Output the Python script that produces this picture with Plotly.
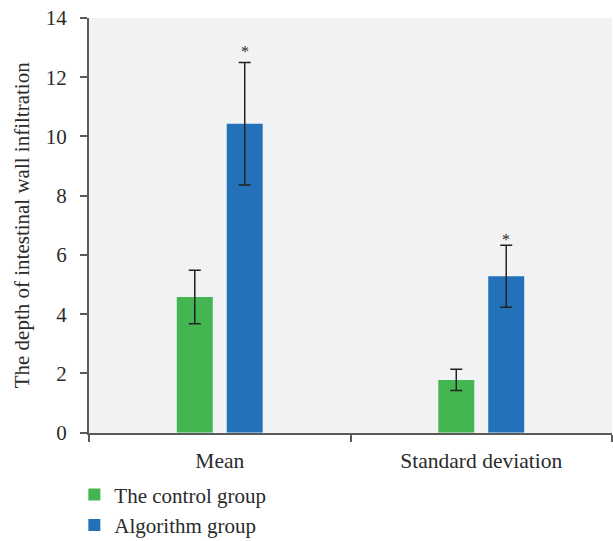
import plotly.graph_objects as go

categories = ["Mean", "Standard deviation"]
control_values = [4.58, 1.78]
control_errors = [0.90, 0.36]
algorithm_values = [10.43, 5.28]
algorithm_errors = [2.07, 1.05]
series_names = ["The control group", "Algorithm group"]
y_ticks = [0, 2, 4, 6, 8, 10, 12, 14]

GREEN = "#44b651"
BLUE = "#2372b9"
AXIS = "#5a5a5a"
TEXT = "#2b2b2b"
FONT = "Liberation Serif"

err_style = dict(type="data", visible=True, color="#222222", thickness=1.5, width=6)

fig = go.Figure()
fig.add_trace(go.Bar(
    x=categories, y=control_values, name=series_names[0],
    marker=dict(color=GREEN, line=dict(width=0)),
    error_y=dict(array=control_errors, **err_style),
))
fig.add_trace(go.Bar(
    x=categories, y=algorithm_values, name=series_names[1],
    marker=dict(color=BLUE, line=dict(width=0)),
    error_y=dict(array=algorithm_errors, **err_style),
))

# significance markers above the algorithm-group error bars
star_shift = [11, 6]
for cat, v, e, s in zip(categories, algorithm_values, algorithm_errors, star_shift):
    fig.add_annotation(
        x=cat, y=v + e, xref="x", yref="y", text="*", showarrow=False,
        xshift=25, yshift=s, font=dict(family=FONT, size=16, color=TEXT),
    )

fig.update_layout(
    width=613, height=541,
    margin=dict(l=89, r=1, t=18, b=107),
    paper_bgcolor="white", plot_bgcolor="#f1f2f4",
    barmode="group", bargap=0.618, bargroupgap=0.28,
    font=dict(family=FONT, size=21, color=TEXT),
    showlegend=True,
    legend=dict(
        orientation="v", xref="paper", yref="container",
        x=-0.028, xanchor="left", y=0.123, yanchor="top",
        font=dict(family=FONT, size=21, color=TEXT),
        itemwidth=30, tracegroupgap=0, bgcolor="rgba(0,0,0,0)",
    ),
)
fig.update_xaxes(
    showline=True, linecolor=AXIS, linewidth=2,
    ticks="outside", tickson="boundaries", ticklen=7, tickcolor=AXIS, tickwidth=2,
    ticklabelstandoff=8,
    showgrid=False, zeroline=False,
    tickfont=dict(family=FONT, size=21.5, color=TEXT),
)
fig.update_yaxes(
    range=[0, 14], tickvals=y_ticks,
    showline=True, linecolor=AXIS, linewidth=2,
    ticks="outside", ticklen=7, tickcolor=AXIS, tickwidth=1.5,
    ticklabelstandoff=9,
    showgrid=False, zeroline=False,
    tickfont=dict(family=FONT, size=21, color=TEXT),
    title=dict(text="The depth of intestinal wall infiltration",
               font=dict(family=FONT, size=21, color=TEXT), standoff=10),
)

fig.write_html("out.html")
